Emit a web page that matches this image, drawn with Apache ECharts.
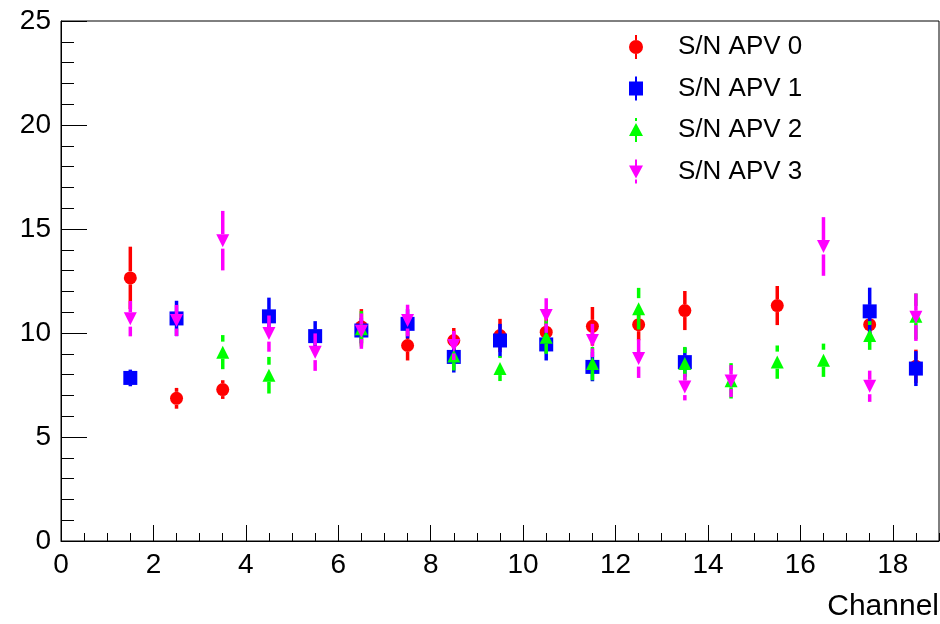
<!DOCTYPE html>
<html>
<head>
<meta charset="utf-8">
<script src="https://cdn.jsdelivr.net/npm/echarts@6/dist/echarts.min.js"></script>
<style>
  html, body { margin: 0; padding: 0; background: #ffffff; }
  #chart { width: 940px; height: 624px; }
</style>
</head>
<body>
<div id="chart"></div>
<script>
// Channel centres (bin centres of the strip channels)
const channels = [1.5, 2.5, 3.5, 4.5, 5.5, 6.5, 7.5, 8.5, 9.5, 10.5, 11.5, 12.5, 13.5, 14.5, 15.5, 16.5, 17.5, 18.5];

// Signal-to-noise per channel and its uncertainty, one pair of arrays per APV
const apv0 = [12.65, 6.86, 7.28, null, null, 10.3, 9.4, 9.64, 9.88, 10.04, 10.32, 10.4, 11.08, null, 11.32, null, 10.4, 8.4];
const apv0Err = [1.5, 0.5, 0.45, null, null, 0.85, 0.72, 0.6, 0.8, 0.8, 0.93, 0.75, 0.94, null, 0.94, null, 0.8, 0.8];

const apv1 = [7.84, 10.7, null, 10.8, 9.85, 10.12, 10.44, 8.85, 9.64, 9.45, 8.37, null, 8.6, null, null, null, 11.04, 8.29];
const apv1Err = [0.4, 0.85, null, 0.9, 0.72, 0.6, 0.7, 0.75, 0.8, 0.77, 0.69, null, 0.7, null, null, null, 1.14, 0.84];

const apv2 = [null, null, 9.08, 7.97, null, 10.2, null, 8.9, 8.29, 9.8, 8.53, 11.17, 8.53, 7.7, 8.6, 8.69, 9.88, 10.8];
const apv2Err = [null, null, 0.82, 0.88, null, 0.85, null, 0.7, 0.6, 0.8, 0.8, 1.0, 0.8, 0.85, 0.8, 0.8, 0.69, 1.1];

const apv3 = [10.69, 10.6, 14.44, 9.97, 9.08, 10.09, 10.6, 9.4, null, 10.84, 9.64, 8.77, 7.4, 7.69, null, 14.16, 7.44, 10.76];
const apv3Err = [0.85, 0.75, 1.43, 0.87, 0.9, 0.85, 0.76, 0.7, null, 0.83, 0.8, 0.93, 0.64, 0.77, null, 1.41, 0.75, 1.14];

// Axis tick labels
const xTickLabels = ['0', '2', '4', '6', '8', '10', '12', '14', '16', '18'];
const yTickLabels = ['0', '5', '10', '15', '20', '25'];

const seriesNames = ['S/N APV 0', 'S/N APV 1', 'S/N APV 2', 'S/N APV 3'];
const seriesColors = ['#ff0000', '#0000ff', '#00ff00', '#ff00ff'];

const FONT = '"Liberation Sans", Arial, Helvetica, sans-serif';
const BAR_W = 3.5;
const HALF = 6.5;

// Legend glyphs: marker with its vertical error bar (14 x 24 box)
const legendIcons = [
  'path://M6,0h2v5h-2z M6,19h2v5h-2z M0,12a7,7 0 1,1 14,0a7,7 0 1,1 -14,0z',
  'path://M6,0h2v5h-2z M6,19h2v5h-2z M0,5h14v14h-14z',
  'path://M6,0h2v3h-2z M6,18h2v6h-2z M7,5L14,18L0,18z',
  'path://M6,0h2v6h-2z M6,20h2v4h-2z M0,6L14,6L7,19z'
];

function buildData(vals, errs) {
  const out = [];
  channels.forEach(function (c, i) {
    if (vals[i] !== null) out.push([c, vals[i], errs[i]]);
  });
  return out;
}

// Draw one point: error bar (split around the marker) and the marker itself
function makeRenderer(kind, color) {
  return function (params, api) {
    const x = api.value(0), y = api.value(1), e = api.value(2);
    const c = api.coord([x, y]);
    const yTop = api.coord([x, y + e])[1];
    const yBot = api.coord([x, y - e])[1];
    const cx = c[0], cy = c[1];
    let gapTop = HALF, gapBot = HALF;
    if (kind === 'up') gapTop = HALF + 4;
    if (kind === 'down') gapBot = HALF + 1.5;
    const children = [];
    const lineStyle = { stroke: color, lineWidth: BAR_W };
    if (yTop < cy - gapTop) {
      children.push({ type: 'line', shape: { x1: cx, y1: yTop, x2: cx, y2: cy - gapTop }, style: lineStyle });
    }
    if (yBot > cy + gapBot) {
      children.push({ type: 'line', shape: { x1: cx, y1: cy + gapBot, x2: cx, y2: yBot }, style: lineStyle });
    }
    const fill = { fill: color };
    if (kind === 'circle') {
      children.push({ type: 'circle', shape: { cx: cx, cy: cy, r: HALF }, style: fill });
    } else if (kind === 'square') {
      children.push({ type: 'rect', shape: { x: cx - 7, y: cy - 7, width: 14, height: 14 }, style: fill });
    } else if (kind === 'up') {
      children.push({ type: 'polygon', shape: { points: [[cx, cy - HALF], [cx + HALF, cy + HALF], [cx - HALF, cy + HALF]] }, style: fill });
    } else {
      children.push({ type: 'polygon', shape: { points: [[cx - HALF, cy - HALF], [cx + HALF, cy - HALF], [cx, cy + HALF]] }, style: fill });
    }
    return { type: 'group', children: children };
  };
}

const kinds = ['circle', 'square', 'up', 'down'];
const allVals = [apv0, apv1, apv2, apv3];
const allErrs = [apv0Err, apv1Err, apv2Err, apv3Err];

const series = seriesNames.map(function (name, k) {
  return {
    name: name,
    type: 'custom',
    xAxisIndex: 0,
    yAxisIndex: 0,
    itemStyle: { color: seriesColors[k] },
    renderItem: makeRenderer(kinds[k], seriesColors[k]),
    encode: { x: 0, y: 1 },
    data: buildData(allVals[k], allErrs[k]),
    animation: false
  };
});

const chart = echarts.init(document.getElementById('chart'), null, { renderer: 'canvas' });

chart.setOption({
  backgroundColor: '#ffffff',
  animation: false,
  textStyle: { fontFamily: FONT },
  title: {
    text: 'Channel',
    right: -4,
    bottom: -3,
    textStyle: { fontFamily: FONT, fontSize: 30, fontWeight: 'normal', color: '#000' }
  },
  legend: {
    orient: 'vertical',
    left: 624,
    top: 29,
    itemWidth: 14,
    itemHeight: 24,
    itemGap: 15.5,
    data: seriesNames.map(function (n, k) { return { name: n, icon: legendIcons[k] }; }),
    textStyle: { fontFamily: FONT, fontSize: 26, color: '#000', padding: [0, 0, 0, 30] },
    selectedMode: false
  },
  grid: {
    left: 61,
    right: 1,
    top: 21,
    bottom: 83,
    show: true,
    borderColor: '#000',
    borderWidth: 1,
    backgroundColor: '#ffffff'
  },
  xAxis: [
    {
      type: 'value',
      min: 0,
      max: 19,
      interval: 2,
      position: 'bottom',
      axisLine: { show: true, onZero: false, lineStyle: { color: '#000', width: 1 } },
      axisTick: { show: true, inside: true, length: 16, lineStyle: { color: '#000', width: 1 } },
      axisLabel: {
        showMaxLabel: false,
        margin: 10,
        fontSize: 28,
        fontFamily: FONT,
        color: '#000',
        formatter: function (v) {
          const s = String(v);
          return xTickLabels.indexOf(s) >= 0 ? s : '';
        }
      },
      splitLine: { show: false }
    },
    {
      type: 'value',
      min: 0,
      max: 19,
      interval: 0.5,
      position: 'bottom',
      axisLine: { show: false },
      axisTick: { show: true, inside: true, length: 8, lineStyle: { color: '#000', width: 1 } },
      axisLabel: { show: false },
      splitLine: { show: false }
    }
  ],
  yAxis: {
    type: 'value',
    min: 0,
    max: 25,
    interval: 5,
    axisLine: { show: true, onZero: false, lineStyle: { color: '#000', width: 1 } },
    axisTick: { show: true, inside: true, length: 26, lineStyle: { color: '#000', width: 1 } },
    minorTick: { show: true, splitNumber: 5, length: 13, lineStyle: { color: '#000', width: 1 } },
    axisLabel: {
      margin: 10,
      fontSize: 28,
      fontFamily: FONT,
      color: '#000',
      formatter: function (v) {
        const s = String(v);
        return yTickLabels.indexOf(s) >= 0 ? s : '';
      }
    },
    splitLine: { show: false },
    minorSplitLine: { show: false }
  },
  series: series
});
</script>
</body>
</html>
